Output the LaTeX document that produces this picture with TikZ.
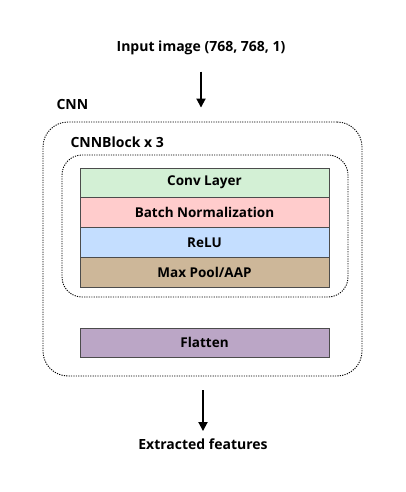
\documentclass[tikz,border=0pt]{standalone}
\usepackage{fontspec}
\setmainfont{Open Sans}
\usepackage{xcolor}
\usetikzlibrary{arrows.meta, positioning, fit}
\definecolor{convgreen}{HTML}{D3F0D5}
\definecolor{normpink}{HTML}{FFCCCC}
\definecolor{relublue}{HTML}{C4DEFF}
\definecolor{pooltan}{HTML}{CDB799}
\definecolor{flatpurple}{HTML}{BBA6C6}
\tikzset{
    layer/.style={rectangle, draw=black!70, minimum width=249pt, minimum height=29.5pt, inner sep=0pt, font=\fontsize{13.5}{16}\selectfont\bfseries},
    group/.style={draw, dash pattern=on 1.2pt off 1.2pt, line width=0.9pt, inner sep=0pt},
    caption/.style={font=\fontsize{14}{17}\selectfont\bfseries},
    arrow/.style={-{Triangle[width=9pt,length=9pt]}, line width=1.8pt},
}
\begin{document}
\begin{tikzpicture}[x=1pt, y=-1pt]
    \useasboundingbox (0,0) rectangle (406,492);

    % Layers of one block
    \node[layer, fill=convgreen] (conv) at (204.5,182.5) {Conv Layer};
    \node[layer, fill=normpink, below=0pt of conv] (norm) {Batch Normalization};
    \node[layer, fill=relublue, below=0pt of norm] (relu) {ReLU};
    \node[layer, fill=pooltan, below=0pt of relu] (pool) {Max Pool/AAP};
    \node[layer, fill=flatpurple] (flatten) at (204.5,342.5) {Flatten};

    % Dotted groups
    \node[group, rounded corners=20pt, fit={(62,155) (348,297)}] (block) {};
    \node[group, rounded corners=25pt, fit={(43,122) (362,376)}] (cnn) {};
    \node[caption, anchor=west] (cnnlabel) at (53,104) {CNN};
    \node[caption, anchor=west] (blocklabel) at (67,142) {CNNBlock x 3};

    % Input and output
    \node[caption] (input) at (201,48) {Input image (768, 768, 1)};
    \node[caption] (output) at (203,444) {Extracted features};
    \draw[arrow, shorten <=13pt, shorten >=14pt] (input.south) -- (input.south |- cnn.north);
    \draw[arrow, shorten <=14pt, shorten >=4pt] (output.north |- cnn.south) -- (output.north);
\end{tikzpicture}
\end{document}
